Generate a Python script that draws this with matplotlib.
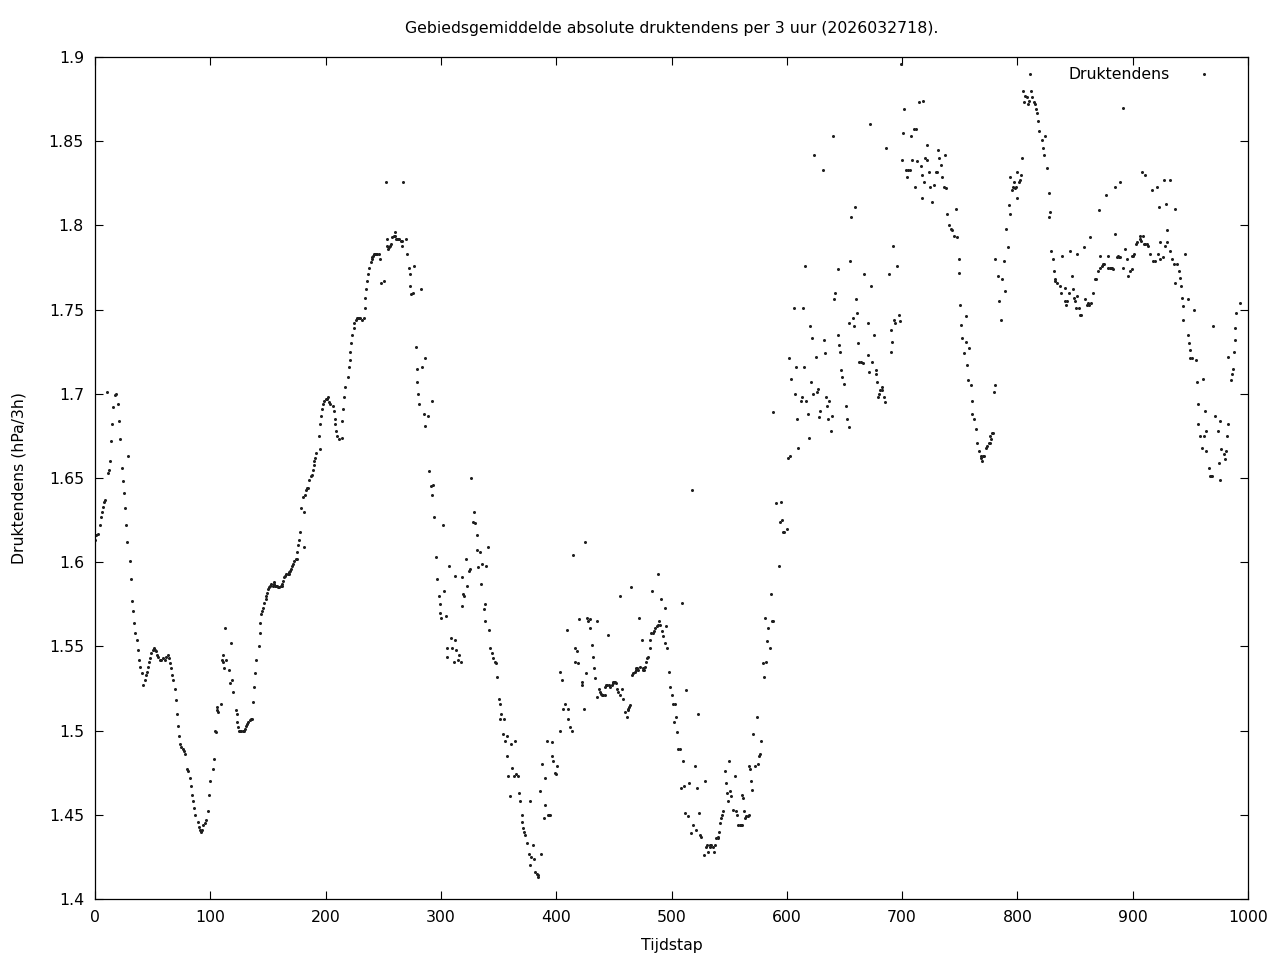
import matplotlib
matplotlib.use("Agg")
import matplotlib.pyplot as plt
import numpy as np

# ---- data (tijdstap, druktendens in hPa/3h) ----
x_deel1 = [0, 1, 3, 4, 5, 6, 7, 8, 9, 10, 11, 12, 13, 14, 15, 16, 17, 18, 20, 21, 22, 23, 24, 25, 26, 27,
           28, 29, 30, 31, 32, 33, 34, 35, 36, 37, 38, 39, 41, 42, 43, 44, 45, 46, 47, 48, 49, 50, 51, 52,
           53, 54, 55, 56, 57, 59, 61, 62, 63, 64, 65, 66, 67, 68, 69, 70, 71, 72, 73, 74, 75, 76, 77, 78,
           80, 81, 82, 83, 84, 85, 86, 87, 89, 90, 91, 92, 93, 94, 95, 96, 98, 99, 100, 102, 103, 104]
y_deel1 = [1.613, 1.616, 1.617, 1.622, 1.627, 1.630, 1.633, 1.636, 1.637, 1.701, 1.653, 1.655, 1.660,
           1.672, 1.682, 1.692, 1.699, 1.700, 1.694, 1.684, 1.673, 1.656, 1.648, 1.641, 1.632, 1.622,
           1.612, 1.663, 1.601, 1.590, 1.577, 1.571, 1.564, 1.558, 1.554, 1.548, 1.542, 1.538, 1.534,
           1.527, 1.530, 1.533, 1.535, 1.538, 1.541, 1.543, 1.546, 1.548, 1.549, 1.548, 1.547, 1.545,
           1.544, 1.542, 1.542, 1.543, 1.542, 1.544, 1.545, 1.543, 1.540, 1.537, 1.533, 1.530, 1.525,
           1.518, 1.510, 1.503, 1.497, 1.492, 1.490, 1.489, 1.488, 1.486, 1.477, 1.476, 1.472, 1.467,
           1.462, 1.458, 1.454, 1.450, 1.446, 1.443, 1.441, 1.440, 1.441, 1.444, 1.445, 1.447, 1.452,
           1.462, 1.470, 1.477, 1.483, 1.500]

x_deel2 = [105, 106, 106, 107, 109, 110, 111, 111, 112, 113, 114, 116, 117, 118, 119, 120, 122, 123, 123,
           124, 125, 126, 127, 128, 129, 130, 131, 132, 133, 134, 135, 136, 137, 138, 139, 140, 142, 143,
           143, 144, 145, 146, 147, 148, 148, 149, 150, 151, 152, 153, 154, 155, 155, 156, 157, 158, 159,
           160, 161, 162, 162, 163, 164, 165, 166, 167, 168, 168, 169, 170, 171, 172, 173, 174, 175, 175,
           176, 177, 178, 179, 180, 181, 181, 182, 183, 184, 185, 186, 187, 188, 189, 190, 190, 191, 192,
           194, 195, 195, 196, 197, 198, 199, 200, 201, 202]
y_deel2 = [1.499, 1.514, 1.512, 1.511, 1.516, 1.542, 1.545, 1.541, 1.537, 1.561, 1.542, 1.536, 1.528,
           1.552, 1.530, 1.523, 1.512, 1.510, 1.505, 1.502, 1.500, 1.500, 1.500, 1.500, 1.500, 1.501,
           1.503, 1.504, 1.505, 1.506, 1.507, 1.507, 1.517, 1.526, 1.534, 1.542, 1.550, 1.558, 1.564,
           1.569, 1.571, 1.573, 1.576, 1.578, 1.580, 1.582, 1.584, 1.585, 1.586, 1.587, 1.586, 1.587,
           1.588, 1.586, 1.586, 1.586, 1.585, 1.585, 1.586, 1.586, 1.587, 1.589, 1.591, 1.592, 1.593,
           1.593, 1.593, 1.594, 1.595, 1.596, 1.598, 1.599, 1.601, 1.602, 1.602, 1.606, 1.610, 1.613,
           1.618, 1.632, 1.639, 1.609, 1.630, 1.640, 1.643, 1.644, 1.644, 1.649, 1.651, 1.652, 1.655,
           1.658, 1.660, 1.662, 1.665, 1.675, 1.682, 1.667, 1.687, 1.691, 1.694, 1.696, 1.697, 1.697,
           1.698]

x_deel3 = [203, 204, 206, 207, 208, 208, 209, 210, 212, 214, 214, 215, 216, 217, 219, 220, 221, 221, 222,
           223, 225, 225, 226, 227, 228, 229, 230, 232, 233, 234, 234, 235, 236, 237, 238, 239, 240, 240,
           241, 242, 243, 244, 245, 246, 247, 248, 251, 252, 253, 253, 254, 255, 256, 257, 258, 259, 260,
           260, 261, 262, 263, 264, 265, 266, 266, 267, 270, 271, 272, 273, 273, 274, 276, 277, 278, 279,
           279, 280, 281, 283, 284, 285, 286, 286, 289, 290, 291, 292, 292, 293, 294, 296, 297, 298, 299,
           299, 300, 302]
y_deel3 = [1.695, 1.694, 1.693, 1.690, 1.685, 1.682, 1.678, 1.675, 1.673, 1.674, 1.684, 1.691, 1.698,
           1.704, 1.710, 1.716, 1.720, 1.725, 1.730, 1.735, 1.739, 1.742, 1.744, 1.745, 1.745, 1.745,
           1.745, 1.744, 1.745, 1.751, 1.757, 1.762, 1.767, 1.771, 1.775, 1.778, 1.780, 1.781, 1.782,
           1.783, 1.783, 1.783, 1.783, 1.783, 1.780, 1.766, 1.767, 1.826, 1.788, 1.792, 1.786, 1.787,
           1.788, 1.789, 1.793, 1.794, 1.796, 1.794, 1.792, 1.792, 1.792, 1.792, 1.791, 1.791, 1.788,
           1.826, 1.792, 1.783, 1.775, 1.771, 1.764, 1.759, 1.760, 1.776, 1.728, 1.715, 1.707, 1.700,
           1.694, 1.762, 1.716, 1.688, 1.721, 1.681, 1.687, 1.654, 1.645, 1.640, 1.696, 1.646, 1.627,
           1.603, 1.590, 1.580, 1.575, 1.570, 1.567, 1.622]

x_deel4 = [303, 304, 305, 305, 307, 309, 310, 311, 312, 312, 313, 315, 316, 317, 318, 318, 319, 320, 322,
           323, 324, 325, 326, 328, 329, 330, 331, 331, 332, 334, 335, 336, 337, 338, 338, 339, 341, 342,
           343, 344, 345, 347, 348, 349, 350, 351, 351, 352, 354, 355, 356, 357, 357, 358, 360, 361, 362,
           363, 364, 365, 367, 368, 369, 370, 370, 371, 372, 373, 375, 376, 377, 377, 378, 380, 381, 382,
           383, 384, 384, 386, 387, 388, 389, 390, 390, 392, 393, 394, 395, 396, 396, 397, 399, 400, 401,
           403, 403]
y_deel4 = [1.583, 1.568, 1.549, 1.544, 1.598, 1.555, 1.549, 1.541, 1.592, 1.554, 1.548, 1.542, 1.545,
           1.541, 1.591, 1.574, 1.581, 1.580, 1.602, 1.586, 1.595, 1.596, 1.650, 1.624, 1.630, 1.623,
           1.607, 1.616, 1.597, 1.606, 1.587, 1.599, 1.572, 1.565, 1.575, 1.598, 1.609, 1.560, 1.549,
           1.546, 1.543, 1.541, 1.540, 1.532, 1.519, 1.507, 1.516, 1.510, 1.498, 1.507, 1.494, 1.497,
           1.485, 1.473, 1.461, 1.492, 1.478, 1.473, 1.494, 1.474, 1.473, 1.463, 1.458, 1.450, 1.446,
           1.442, 1.440, 1.438, 1.433, 1.427, 1.420, 1.458, 1.425, 1.432, 1.424, 1.416, 1.415, 1.414,
           1.413, 1.464, 1.427, 1.480, 1.448, 1.472, 1.456, 1.494, 1.450, 1.450, 1.450, 1.493, 1.485,
           1.482, 1.475, 1.474, 1.479, 1.535, 1.500]

x_deel5 = [405, 406, 408, 409, 410, 410, 412, 414, 415, 416, 416, 418, 419, 420, 422, 422, 424, 425, 426,
           427, 428, 429, 429, 431, 432, 433, 434, 435, 435, 437, 438, 439, 440, 441, 442, 442, 443, 444,
           445, 446, 447, 448, 449, 449, 450, 451, 452, 453, 454, 455, 455, 457, 458, 460, 461, 462, 462,
           463, 464, 465, 466, 467, 468, 469, 469, 470, 471, 472, 473, 474, 475, 475, 476, 477, 478, 479,
           480, 481, 481, 482, 483, 484, 485, 486, 487, 488, 488, 489, 490, 491, 492, 493, 494, 494, 495,
           496, 498, 499, 500, 501, 502]
y_deel5 = [1.530, 1.513, 1.516, 1.560, 1.513, 1.507, 1.502, 1.500, 1.604, 1.541, 1.549, 1.547, 1.540,
           1.566, 1.527, 1.529, 1.513, 1.612, 1.534, 1.567, 1.565, 1.566, 1.561, 1.551, 1.544, 1.537,
           1.531, 1.520, 1.565, 1.525, 1.523, 1.522, 1.521, 1.521, 1.521, 1.526, 1.527, 1.527, 1.557,
           1.527, 1.526, 1.527, 1.528, 1.529, 1.529, 1.529, 1.528, 1.525, 1.523, 1.521, 1.580, 1.525,
           1.519, 1.511, 1.508, 1.512, 1.513, 1.514, 1.515, 1.585, 1.533, 1.534, 1.535, 1.536, 1.537,
           1.537, 1.536, 1.567, 1.538, 1.554, 1.537, 1.536, 1.536, 1.538, 1.541, 1.543, 1.544, 1.549,
           1.554, 1.558, 1.583, 1.558, 1.559, 1.561, 1.562, 1.593, 1.563, 1.565, 1.563, 1.578, 1.559,
           1.556, 1.552, 1.573, 1.562, 1.549, 1.535, 1.526, 1.521, 1.516, 1.505]

x_deel6 = [503, 504, 505, 506, 507, 508, 509, 510, 511, 512, 513, 514, 515, 517, 518, 519, 520, 521, 522,
           523, 524, 525, 526, 528, 529, 530, 531, 532, 533, 533, 534, 536, 537, 538, 539, 540, 540, 541,
           542, 543, 544, 545, 546, 547, 548, 549, 550, 551, 552, 553, 555, 556, 557, 558, 559, 560, 561,
           561, 562, 563, 564, 565, 566, 567, 567, 568, 569, 570, 571, 572, 574, 575, 576, 577, 578, 579,
           580, 581, 582, 583, 584, 585, 586, 587, 588, 588, 591, 593, 594, 595, 596, 597, 598, 600]
y_deel6 = [1.516, 1.508, 1.499, 1.489, 1.489, 1.466, 1.576, 1.482, 1.467, 1.451, 1.524, 1.449, 1.469,
           1.439, 1.643, 1.444, 1.479, 1.441, 1.466, 1.510, 1.451, 1.438, 1.437, 1.426, 1.470, 1.431,
           1.432, 1.428, 1.432, 1.431, 1.432, 1.431, 1.428, 1.432, 1.436, 1.436, 1.437, 1.440, 1.445,
           1.448, 1.450, 1.452, 1.476, 1.469, 1.463, 1.458, 1.482, 1.464, 1.461, 1.453, 1.473, 1.452,
           1.450, 1.444, 1.444, 1.444, 1.444, 1.462, 1.460, 1.452, 1.448, 1.449, 1.449, 1.450, 1.479,
           1.477, 1.470, 1.465, 1.498, 1.479, 1.508, 1.480, 1.485, 1.486, 1.494, 1.540, 1.532, 1.567,
           1.541, 1.553, 1.561, 1.549, 1.581, 1.565, 1.565, 1.689, 1.635, 1.598, 1.624, 1.636, 1.625,
           1.618, 1.618, 1.620]

x_deel7 = [601, 602, 603, 604, 606, 607, 608, 609, 610, 612, 613, 614, 615, 616, 617, 618, 619, 620, 621,
           622, 623, 624, 625, 626, 627, 628, 629, 631, 632, 633, 634, 635, 636, 637, 638, 639, 640, 641,
           642, 644, 644, 645, 646, 647, 648, 650, 651, 652, 654, 654, 655, 656, 657, 658, 659, 660, 661,
           662, 663, 664, 666, 667, 670, 670, 671, 672, 673, 674, 676, 677, 677, 678, 679, 680, 681, 683,
           683, 684, 685, 686, 689, 690, 690, 691, 692, 693, 694, 696, 697, 698, 699, 700]
y_deel7 = [1.662, 1.721, 1.663, 1.709, 1.751, 1.700, 1.716, 1.685, 1.668, 1.696, 1.698, 1.751, 1.716,
           1.776, 1.696, 1.688, 1.674, 1.740, 1.707, 1.733, 1.700, 1.842, 1.722, 1.701, 1.703, 1.686,
           1.690, 1.833, 1.732, 1.724, 1.698, 1.693, 1.685, 1.696, 1.678, 1.687, 1.853, 1.756, 1.760,
           1.774, 1.735, 1.729, 1.725, 1.714, 1.710, 1.706, 1.693, 1.685, 1.680, 1.742, 1.779, 1.805,
           1.745, 1.740, 1.811, 1.756, 1.748, 1.730, 1.719, 1.719, 1.718, 1.771, 1.742, 1.723, 1.713,
           1.860, 1.764, 1.719, 1.735, 1.712, 1.714, 1.707, 1.698, 1.700, 1.702, 1.704, 1.702, 1.698,
           1.695, 1.846, 1.771, 1.725, 1.738, 1.731, 1.788, 1.744, 1.742, 1.776, 1.747, 1.743, 1.896,
           1.839]

x_deel8 = [701, 702, 703, 704, 705, 707, 708, 709, 710, 711, 712, 713, 715, 716, 717, 717, 718, 719, 720,
           722, 722, 723, 724, 726, 728, 729, 730, 731, 732, 734, 735, 736, 737, 738, 739, 741, 742, 743,
           745, 747, 748, 749, 749, 750, 751, 752, 754, 755, 755, 756, 757, 758, 760, 761, 761, 762, 764,
           765, 767, 768, 768, 769, 770, 771, 773, 774, 775, 776, 776, 777, 778, 779, 780, 781, 781, 783,
           784, 786, 787, 788, 789, 790, 792, 793, 794, 794, 795, 796, 797, 798, 799, 800, 800, 801]
y_deel8 = [1.855, 1.869, 1.833, 1.829, 1.833, 1.833, 1.853, 1.839, 1.857, 1.823, 1.857, 1.838, 1.873,
           1.835, 1.830, 1.816, 1.874, 1.826, 1.840, 1.848, 1.839, 1.832, 1.823, 1.814, 1.824, 1.832,
           1.832, 1.845, 1.840, 1.836, 1.829, 1.823, 1.842, 1.822, 1.807, 1.800, 1.798, 1.797, 1.794,
           1.810, 1.793, 1.780, 1.772, 1.753, 1.741, 1.733, 1.724, 1.746, 1.731, 1.717, 1.708, 1.727,
           1.705, 1.696, 1.688, 1.685, 1.679, 1.671, 1.666, 1.663, 1.662, 1.660, 1.663, 1.663, 1.668,
           1.669, 1.671, 1.671, 1.675, 1.673, 1.677, 1.677, 1.701, 1.705, 1.780, 1.770, 1.755, 1.744,
           1.768, 1.779, 1.761, 1.798, 1.787, 1.812, 1.807, 1.829, 1.821, 1.823, 1.826, 1.822, 1.823,
           1.816, 1.832, 1.826]

x_deel9 = [802, 803, 804, 805, 806, 807, 808, 809, 810, 811, 812, 813, 814, 815, 816, 817, 818, 819, 821,
           822, 823, 824, 826, 827, 827, 828, 829, 831, 832, 833, 833, 834, 837, 838, 839, 841, 841, 842,
           843, 845, 846, 847, 848, 849, 850, 851, 852, 852, 853, 854, 855, 858, 859, 860, 861, 862, 863,
           864, 866, 867, 868, 870, 871, 872, 872, 873, 874, 875, 877, 879, 879, 880, 881, 882, 883, 885,
           885, 886, 887, 888, 889, 889, 892, 892, 893, 895, 896, 898, 899, 899, 900]
y_deel9 = [1.827, 1.830, 1.840, 1.880, 1.873, 1.877, 1.876, 1.872, 1.874, 1.890, 1.880, 1.876, 1.873,
           1.872, 1.869, 1.867, 1.862, 1.856, 1.851, 1.846, 1.842, 1.853, 1.834, 1.819, 1.805, 1.808,
           1.785, 1.780, 1.773, 1.768, 1.767, 1.766, 1.764, 1.760, 1.782, 1.763, 1.755, 1.753, 1.755,
           1.760, 1.785, 1.770, 1.762, 1.757, 1.755, 1.751, 1.783, 1.758, 1.751, 1.747, 1.747, 1.787,
           1.756, 1.753, 1.754, 1.753, 1.793, 1.754, 1.760, 1.768, 1.768, 1.773, 1.809, 1.782, 1.775,
           1.776, 1.777, 1.777, 1.818, 1.782, 1.775, 1.775, 1.775, 1.775, 1.774, 1.823, 1.795, 1.781,
           1.782, 1.781, 1.781, 1.826, 1.775, 1.870, 1.786, 1.780, 1.770, 1.773, 1.774, 1.782, 1.782]

x_deel10 = [901, 903, 904, 906, 906, 907, 908, 909, 910, 911, 911, 912, 913, 915, 917, 918, 919, 921, 922,
            923, 924, 924, 926, 927, 928, 929, 930, 930, 932, 932, 934, 936, 937, 937, 938, 940, 941, 942,
            943, 944, 944, 945, 948, 948, 949, 950, 950, 951, 953, 955, 956, 957, 957, 958, 960, 961, 962,
            963, 964, 964, 966, 967, 968, 969, 970, 971, 974, 975, 976, 976, 977, 979, 980, 981, 982, 983,
            983, 985, 986, 987, 988, 989, 989, 990, 993]
y_deel10 = [1.783, 1.789, 1.790, 1.792, 1.794, 1.791, 1.832, 1.794, 1.789, 1.789, 1.830, 1.789, 1.788,
            1.783, 1.821, 1.779, 1.779, 1.823, 1.783, 1.811, 1.790, 1.780, 1.781, 1.827, 1.788, 1.813,
            1.797, 1.790, 1.785, 1.827, 1.780, 1.777, 1.766, 1.810, 1.777, 1.773, 1.769, 1.764, 1.757,
            1.752, 1.744, 1.783, 1.756, 1.735, 1.730, 1.726, 1.721, 1.721, 1.750, 1.720, 1.707, 1.694,
            1.682, 1.675, 1.668, 1.709, 1.675, 1.690, 1.678, 1.666, 1.656, 1.651, 1.651, 1.651, 1.740,
            1.687, 1.678, 1.659, 1.684, 1.649, 1.667, 1.664, 1.661, 1.666, 1.675, 1.682, 1.722, 1.708,
            1.712, 1.715, 1.725, 1.732, 1.739, 1.748, 1.754]

x_ticks = [0, 100, 200, 300, 400, 500, 600, 700, 800, 900, 1000]
y_ticks = [1.4, 1.45, 1.5, 1.55, 1.6, 1.65, 1.7, 1.75, 1.8, 1.85, 1.9]
y_tick_labels = ["1.4", "1.45", "1.5", "1.55", "1.6", "1.65", "1.7", "1.75", "1.8", "1.85", "1.9"]

tijdstap = np.concatenate([x_deel1, x_deel2, x_deel3, x_deel4, x_deel5,
                           x_deel6, x_deel7, x_deel8, x_deel9, x_deel10])
druktendens = np.concatenate([y_deel1, y_deel2, y_deel3, y_deel4, y_deel5,
                              y_deel6, y_deel7, y_deel8, y_deel9, y_deel10])

plt.rcParams["font.family"] = ["DejaVu Sans"]
fs = 11.3

fig = plt.figure(figsize=(12.8, 9.6), dpi=100)
ax = fig.add_axes([95 / 1280, 1 - 899 / 960, (1248 - 95) / 1280, (899 - 57) / 960])

ax.plot(tijdstap, druktendens, linestyle="none", marker="o", markersize=2.2,
        markeredgewidth=0, color="#1e1e1e", label="Druktendens")

ax.set_xlim(0, 1000)
ax.set_ylim(1.4, 1.9)
ax.set_xticks(x_ticks)
ax.set_xticklabels([str(t) for t in x_ticks])
ax.set_yticks(y_ticks)
ax.set_yticklabels(y_tick_labels)
ax.tick_params(direction="in", length=5.5, width=0.8, top=True, right=True,
               labelsize=fs, pad=8, colors="black")
for s in ax.spines.values():
    s.set_linewidth(0.9)

ax.set_title("Gebiedsgemiddelde absolute druktendens per 3 uur (2026032718).",
             fontsize=fs, pad=17)
ax.set_xlabel("Tijdstap", fontsize=fs, labelpad=9)
ax.set_ylabel("Druktendens (hPa/3h)", fontsize=fs, labelpad=16)

ax.legend(loc="upper right", bbox_to_anchor=(0.981, 0.995), frameon=False,
          markerfirst=False, fontsize=fs, handlelength=2.0, handletextpad=1.2,
          markerscale=1.0, borderaxespad=0)

fig.savefig("out.png", dpi=100, facecolor="white")
